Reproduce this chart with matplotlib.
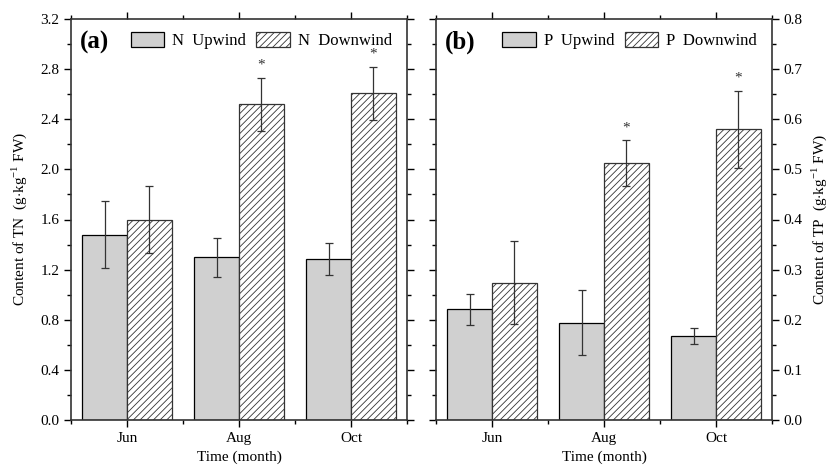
import numpy as np
import matplotlib.pyplot as plt
from matplotlib.ticker import MultipleLocator

plt.rcParams['font.family'] = ['Liberation Serif', 'DejaVu Serif']
plt.rcParams['mathtext.fontset'] = 'custom'
plt.rcParams['mathtext.rm'] = 'Liberation Serif'
plt.rcParams['hatch.linewidth'] = 0.6

months = ['Jun', 'Aug', 'Oct']

tn_up = [1.48, 1.30, 1.285]
tn_up_err = [0.27, 0.155, 0.125]
tn_down = [1.60, 2.52, 2.607]
tn_down_err = [0.27, 0.21, 0.21]

tp_up = [0.221, 0.194, 0.168]
tp_up_err = [0.031, 0.065, 0.016]
tp_down = [0.274, 0.512, 0.580]
tp_down_err = [0.083, 0.046, 0.077]

# which downwind bars get a significance star
star = [False, True, True]

fig = plt.figure(figsize=(8.35, 4.71), dpi=100)
ax1 = fig.add_axes([71 / 835, 51 / 471, 336 / 835, 401 / 471])
ax2 = fig.add_axes([436 / 835, 51 / 471, 336 / 835, 401 / 471])

x = np.arange(1, len(months) + 1)
w = 0.4


def panel(ax, up, up_err, down, down_err, ymax, major, minor, tag, names, star_off):
    ax.bar(x - w / 2, up, w, color='#d0d0d0', edgecolor='black', linewidth=0.9,
           yerr=up_err, error_kw=dict(ecolor='#333333', elinewidth=0.9, capsize=3, capthick=0.9),
           label=names[0])
    ax.bar(x + w / 2, down, w, color='white', edgecolor='#333333', linewidth=0.9, hatch='/////',
           yerr=down_err, error_kw=dict(ecolor='#333333', elinewidth=0.9, capsize=3, capthick=0.9),
           label=names[1])
    for i in range(len(months)):
        if star[i]:
            ax.text(x[i] + w / 2, down[i] + down_err[i] + star_off, '*', ha='center', va='bottom',
                    fontsize=11, color='#333333')
    ax.set_xlim(0.5, 3.5)
    ax.set_ylim(0, ymax)
    ax.set_xticks(x)
    ax.set_xticklabels(months)
    ax.xaxis.set_minor_locator(MultipleLocator(0.5))
    ax.yaxis.set_major_locator(MultipleLocator(major))
    ax.yaxis.set_minor_locator(MultipleLocator(minor))
    ax.tick_params(which='both', direction='out', top=True, right=True, labelsize=11, width=1.0)
    ax.tick_params(which='major', length=5)
    ax.tick_params(which='minor', length=3)
    for s in ax.spines.values():
        s.set_linewidth(1.2)
        s.set_color('#333333')
    ax.set_xlabel('Time (month)', fontsize=11, labelpad=4)
    ax.text(0.025, 0.97, tag, transform=ax.transAxes, fontsize=18, fontweight='bold', va='top', ha='left')
    ax.legend(loc='upper right', bbox_to_anchor=(1.0, 1.005), ncol=2, frameon=False, fontsize=12,
              handlelength=2.0, handleheight=1.0, handletextpad=0.5, columnspacing=0.6)


panel(ax1, tn_up, tn_up_err, tn_down, tn_down_err, 3.2, 0.4, 0.2, '(a)',
      ['N  Upwind', 'N  Downwind'], 0.05)
ax1.yaxis.set_major_formatter(plt.FormatStrFormatter('%.1f'))
ax1.set_ylabel('Content of TN  (g$\\cdot$kg$^{\\mathrm{-1}}$ FW)', fontsize=11, labelpad=8)

panel(ax2, tp_up, tp_up_err, tp_down, tp_down_err, 0.8, 0.1, 0.05, '(b)',
      ['P  Upwind', 'P  Downwind'], 0.012)
ax2.yaxis.set_major_formatter(plt.FormatStrFormatter('%.1f'))
ax2.yaxis.tick_right()
ax2.tick_params(which='both', left=True, right=True, labelleft=False, labelright=True)
ax2.yaxis.set_label_position('right')
ax2.set_ylabel('Content of TP  (g$\\cdot$kg$^{\\mathrm{-1}}$ FW)', fontsize=11, labelpad=5, rotation=90)

fig.savefig('out.png', dpi=100)
